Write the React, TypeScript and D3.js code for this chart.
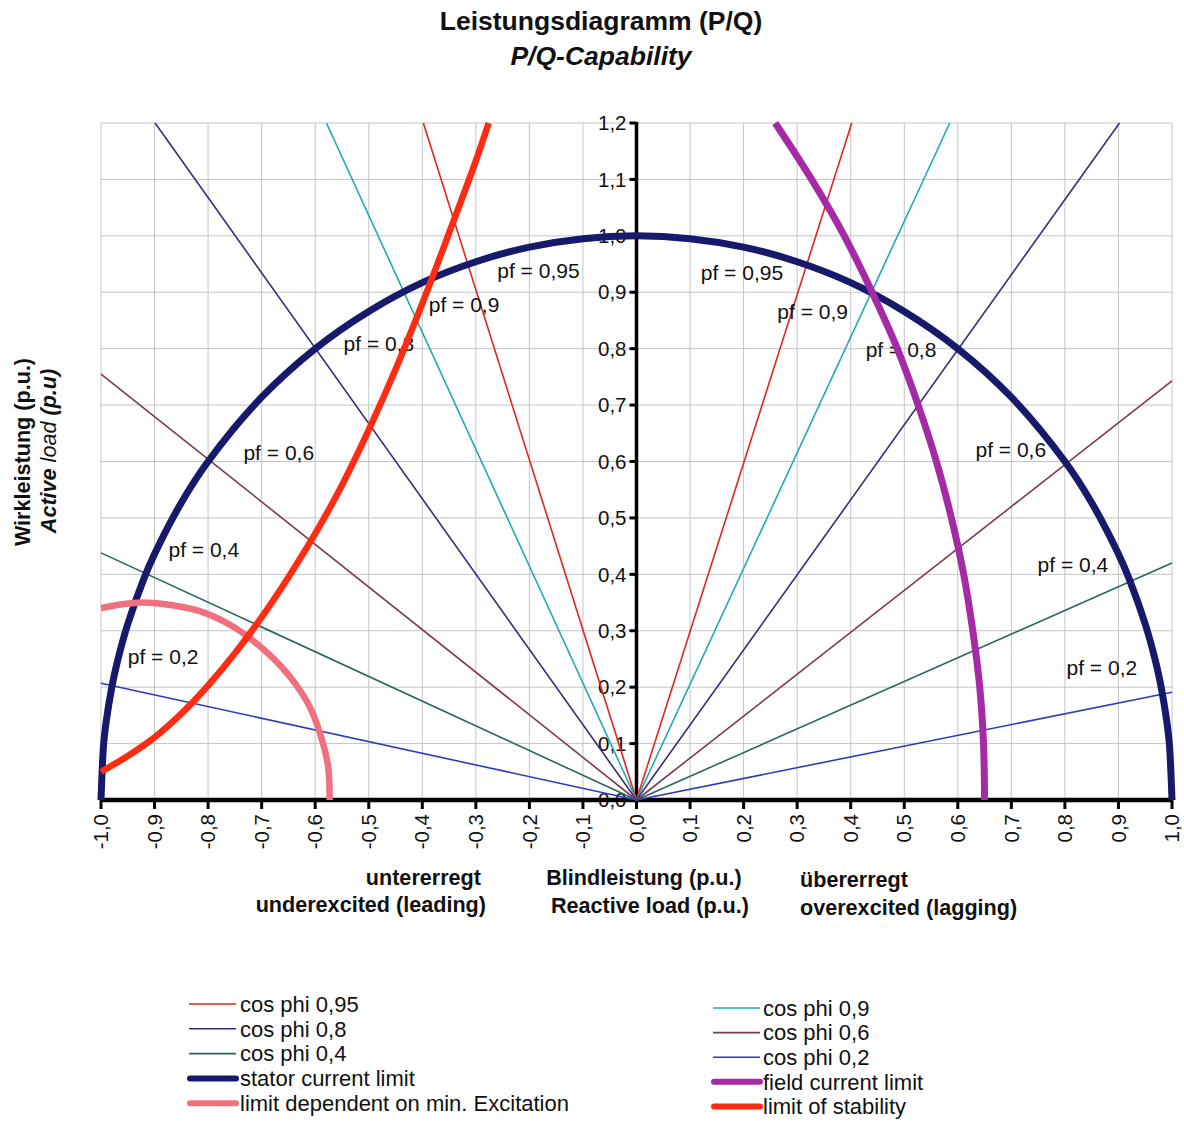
import React from "react";
import * as d3 from "d3";

// ---------- data ----------
const yTicks = [0, 0.1, 0.2, 0.3, 0.4, 0.5, 0.6, 0.7, 0.8, 0.9, 1.0, 1.1, 1.2];
const xTicks = [-1, -0.9, -0.8, -0.7, -0.6, -0.5, -0.4, -0.3, -0.2, -0.1, 0, 0.1, 0.2, 0.3, 0.4, 0.5, 0.6, 0.7, 0.8, 0.9, 1.0];

// power-factor rays: endpoints [Q, P] read where each ray leaves the plot (left, right)
const pfNames = ["cos phi 0,95", "cos phi 0,9", "cos phi 0,8", "cos phi 0,6", "cos phi 0,4", "cos phi 0,2"];
const pfColors = ["#e3241d", "#22a9b2", "#3a2b78", "#7b3a55", "#28675f", "#2b3cbf"];
const pfLeftEnds: [number, number][] = [[-0.398, 1.2], [-0.579, 1.2], [-0.899, 1.2], [-1, 0.755], [-1, 0.438], [-1, 0.207]];
const pfRightEnds: [number, number][] = [[0.402, 1.2], [0.585, 1.2], [0.902, 1.2], [1, 0.743], [1, 0.42], [1, 0.191]];

// stator current limit (Q, P)
const statorQ = [-1, -0.995, -0.99, -0.98, -0.97, -0.95, -0.92, -0.9, -0.85, -0.8, -0.7, -0.6, -0.5, -0.4, -0.3, -0.2, -0.1, 0,
  0.1, 0.2, 0.3, 0.4, 0.5, 0.6, 0.7, 0.8, 0.85, 0.9, 0.92, 0.95, 0.97, 0.98, 0.99, 0.995, 1];
const statorP = [0, 0.1, 0.141, 0.199, 0.243, 0.312, 0.392, 0.436, 0.527, 0.6, 0.714, 0.8, 0.866, 0.917, 0.954, 0.98, 0.995, 1,
  0.995, 0.98, 0.954, 0.917, 0.866, 0.8, 0.714, 0.6, 0.527, 0.436, 0.392, 0.312, 0.243, 0.199, 0.141, 0.1, 0];

// field current limit (Q, P)
const fieldQ = [0.65, 0.648, 0.641, 0.628, 0.611, 0.588, 0.56, 0.526, 0.487, 0.44, 0.388, 0.327, 0.259];
const fieldP = [0, 0.1, 0.2, 0.3, 0.4, 0.5, 0.6, 0.7, 0.8, 0.9, 1.0, 1.1, 1.2];

// limit dependent on min. excitation (Q, P)
const minExcQ = [-1, -0.96, -0.923, -0.88, -0.82, -0.76, -0.7, -0.65, -0.61, -0.59, -0.576, -0.573];
const minExcP = [0.34, 0.347, 0.35, 0.347, 0.336, 0.311, 0.27, 0.222, 0.165, 0.115, 0.06, 0];

// limit of stability (Q, P)
const stabQ = [-1, -0.95, -0.9, -0.85, -0.8, -0.75, -0.7, -0.65, -0.6, -0.55, -0.5, -0.45, -0.4, -0.35, -0.3, -0.276];
const stabP = [0.05, 0.078, 0.111, 0.153, 0.203, 0.26, 0.324, 0.395, 0.472, 0.558, 0.656, 0.763, 0.88, 1.005, 1.133, 1.2];

const limitNames = ["stator current limit", "field current limit", "limit dependent on min. Excitation", "limit of stability"];
const limitColors = ["#17196b", "#a52aa6", "#f1707d", "#ff2b12"];

// pf annotations: text, Q (start), P (baseline)
const pfLabelText = ["pf = 0,95", "pf = 0,9", "pf = 0,8", "pf = 0,6", "pf = 0,4", "pf = 0,2",
  "pf = 0,95", "pf = 0,9", "pf = 0,8", "pf = 0,6", "pf = 0,4", "pf = 0,2"];
const pfLabelQ = [-0.26, -0.388, -0.547, -0.734, -0.874, -0.95, 0.12, 0.263, 0.428, 0.633, 0.749, 0.803];
const pfLabelP = [0.926, 0.865, 0.796, 0.603, 0.431, 0.241, 0.922, 0.853, 0.785, 0.608, 0.404, 0.222];

const FONT = "'Liberation Sans', Arial, Helvetica, sans-serif";

const fmt = (v: number) => d3.format(".1f")(v).replace(".", ",").replace("\u2212", "-");

export default function App() {
  const W = 1184, H = 1121;
  const x = d3.scaleLinear().domain([-1, 1]).range([101, 1172]);
  const y = d3.scaleLinear().domain([0, 1.2]).range([800, 123]);
  const line = d3.line<[number, number]>().x(d => x(d[0])).y(d => y(d[1])).curve(d3.curveCatmullRom.alpha(0.5));
  const straight = d3.line<[number, number]>().x(d => x(d[0])).y(d => y(d[1]));

  const zip = (a: number[], b: number[]) => a.map((v, i) => [v, b[i]] as [number, number]);
  const curves = [zip(statorQ, statorP), zip(fieldQ, fieldP), zip(minExcQ, minExcP), zip(stabQ, stabP)];
  const widths = [7, 7, 6.5, 6.5];

  const gridX = d3.range(-10, 11).map(i => i / 10);
  const gridY = d3.range(0, 13).map(i => i / 10);

  const legendLeft = [
    { name: pfNames[0], color: pfColors[0], thick: false },
    { name: pfNames[2], color: pfColors[2], thick: false },
    { name: pfNames[4], color: pfColors[4], thick: false },
    { name: limitNames[0], color: limitColors[0], thick: true },
    { name: limitNames[2], color: limitColors[2], thick: true },
  ];
  const legendRight = [
    { name: pfNames[1], color: pfColors[1], thick: false },
    { name: pfNames[3], color: pfColors[3], thick: false },
    { name: pfNames[5], color: pfColors[5], thick: false },
    { name: limitNames[1], color: limitColors[1], thick: true },
    { name: limitNames[3], color: limitColors[3], thick: true },
  ];

  return (
    <svg width={W} height={H} style={{ position: "absolute", left: 0, top: 0, background: "#fff" }} fontFamily={FONT}>
      <rect width={W} height={H} fill="#fff" />
      {/* title */}
      <text x={601} y={30} textAnchor="middle" fontSize={26.5} fontWeight="bold" fill="#111">Leistungsdiagramm (P/Q)</text>
      <text x={601} y={65} textAnchor="middle" fontSize={26.5} fontWeight="bold" fontStyle="italic" fill="#111">P/Q-Capability</text>

      {/* grid */}
      <g stroke="#c4c4c4" strokeWidth={1}>
        {gridX.map(v => <line key={"gx" + v} x1={x(v)} x2={x(v)} y1={y(1.2)} y2={y(0)} />)}
        {gridY.map(v => <line key={"gy" + v} x1={x(-1)} x2={x(1)} y1={y(v)} y2={y(v)} />)}
      </g>

      {/* y axis */}
      <line x1={x(0)} x2={x(0)} y1={y(1.2) - 1} y2={y(0)} stroke="#000" strokeWidth={3.5} />
      {yTicks.map(v => (
        <g key={"yt" + v}>
          <line x1={x(0) - 7} x2={x(0)} y1={y(v)} y2={y(v)} stroke="#000" strokeWidth={3} />
          <text x={x(0) - 10} y={y(v)} dy="0.35em" textAnchor="end" fontSize={20.5} fill="#111">{fmt(v)}</text>
        </g>
      ))}
      {/* x axis */}
      <line x1={x(-1)} x2={x(1)} y1={y(0)} y2={y(0)} stroke="#000" strokeWidth={4.5} />
      {xTicks.map(v => (
        <g key={"xt" + v}>
          <line x1={x(v)} x2={x(v)} y1={y(0)} y2={y(0) + 9} stroke="#000" strokeWidth={3} />
          <text transform={`translate(${x(v)},${y(0) + 14}) rotate(-90)`} dy="0.35em" textAnchor="end" fontSize={20.5} fill="#111">{fmt(v)}</text>
        </g>
      ))}

      {/* pf rays */}
      {pfColors.map((c, i) => (
        <g key={"pf" + i} stroke={c} strokeWidth={1.6} fill="none">
          <path d={straight([[0, 0], pfLeftEnds[i]]) || ""} />
          <path d={straight([[0, 0], pfRightEnds[i]]) || ""} />
        </g>
      ))}

      {/* pf labels */}
      {pfLabelText.map((t, i) => (
        <text key={"pl" + i} x={x(pfLabelQ[i])} y={y(pfLabelP[i])} fontSize={21} fill="#111">{t}</text>
      ))}

      {/* limit curves */}
      {curves.map((c, i) => (
        <path key={"c" + i} d={line(c) || ""} stroke={limitColors[i]} strokeWidth={widths[i]} fill="none" />
      ))}

      {/* axis titles */}
      <g fontSize={21.6} fontWeight="bold" fill="#111">
        <text x={481} y={885} textAnchor="end">untererregt</text>
        <text x={486} y={912} textAnchor="end">underexcited (leading)</text>
        <text x={644} y={885} textAnchor="middle">Blindleistung (p.u.)</text>
        <text x={650} y={913} textAnchor="middle">Reactive load (p.u.)</text>
        <text x={800} y={887} textAnchor="start">übererregt</text>
        <text x={800} y={915} textAnchor="start">overexcited (lagging)</text>
      </g>
      <g fontSize={21.6} fontWeight="bold" fill="#111">
        <text transform="translate(30,452) rotate(-90)" textAnchor="middle">Wirkleistung (p.u.)</text>
        <text transform="translate(56,451) rotate(-90)" textAnchor="middle" fontStyle="italic">
          Active <tspan fontWeight="normal">load</tspan> (p.u)
        </text>
      </g>

      {/* legend */}
      <g fontSize={22} fill="#111">
        {legendLeft.map((l, i) => (
          <g key={"ll" + i} transform={`translate(0,${1004 + i * 24.8})`}>
            <line x1={l.thick ? 190 : 189} x2={236} y1={0} y2={0} stroke={l.color} strokeWidth={l.thick ? 6 : 1.6} strokeLinecap={l.thick ? "round" : "butt"} />
            <text x={240} y={0} dy="0.35em">{l.name}</text>
          </g>
        ))}
        {legendRight.map((l, i) => (
          <g key={"lr" + i} transform={`translate(0,${1008 + i * 24.6})`}>
            <line x1={l.thick ? 714 : 713} x2={760} y1={0} y2={0} stroke={l.color} strokeWidth={l.thick ? 6 : 1.6} strokeLinecap={l.thick ? "round" : "butt"} />
            <text x={763} y={0} dy="0.35em">{l.name}</text>
          </g>
        ))}
      </g>
    </svg>
  );
}
